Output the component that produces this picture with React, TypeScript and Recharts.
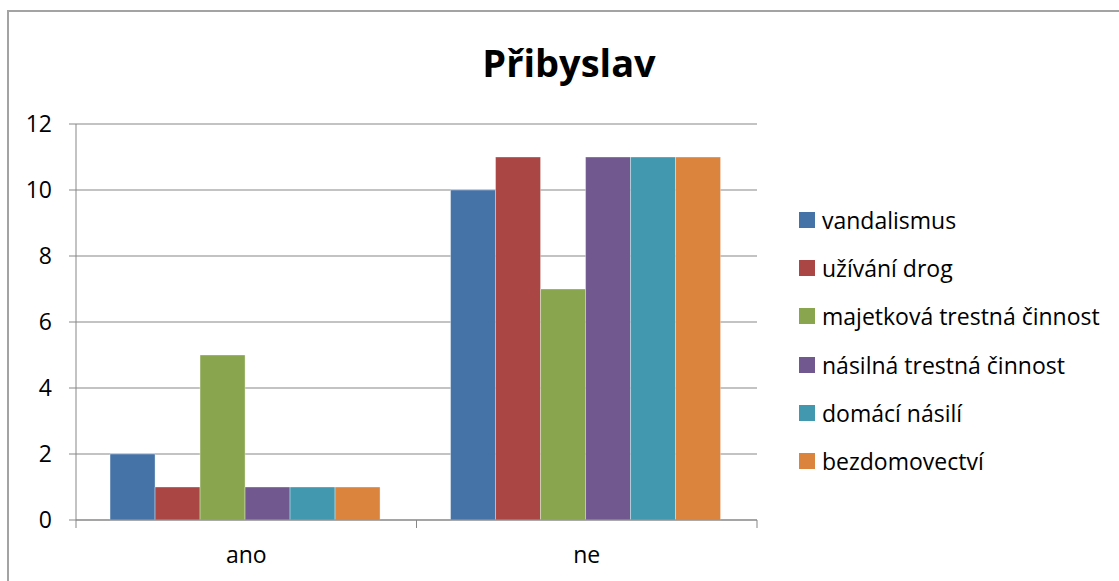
import { BarChart, Bar, XAxis, YAxis, CartesianGrid } from "recharts";

const categories = ["ano", "ne"];

const seriesNames = [
  "vandalismus",
  "užívání drog",
  "majetková trestná činnost",
  "násilná trestná činnost",
  "domácí násilí",
  "bezdomovectví",
];

const vandalismus = [2, 10];
const uzivaniDrog = [1, 11];
const majetkova = [5, 7];
const nasilna = [1, 11];
const domaciNasili = [1, 11];
const bezdomovectvi = [1, 11];

const yTicks = [0, 2, 4, 6, 8, 10, 12];

const seriesValues = [vandalismus, uzivaniDrog, majetkova, nasilna, domaciNasili, bezdomovectvi];

const COLORS = ["#4572A7", "#AA4643", "#89A54E", "#71588F", "#4198AF", "#DB843D"];

const W = 1119;
const H = 581;
const PLOT_LEFT = 76;
const PLOT_RIGHT = 757;
const PLOT_TOP = 124;
const PLOT_BOTTOM = 520;
const BAND = (PLOT_RIGHT - PLOT_LEFT) / categories.length;

const FONT = "'Open Sans', sans-serif";
const AXIS = "#878787";

const data = categories.map((name, i) => {
  const row: Record<string, string | number> = { name };
  seriesNames.forEach((s, j) => {
    row[s] = seriesValues[j][i];
  });
  return row;
});

const CategoryTick = ({ x, y, payload, index }: any) => (
  <g>
    {index === 0 && <line x1={x - BAND / 2} x2={x - BAND / 2} y1={y} y2={y + 8} stroke={AXIS} />}
    <line x1={x + BAND / 2} x2={x + BAND / 2} y1={y} y2={y + 8} stroke={AXIS} />
    <text x={x} y={y + 35} dy="0.35em" textAnchor="middle" fill="#000" fontSize={23} fontFamily={FONT}>
      {payload.value}
    </text>
  </g>
);

export default function App() {
  return (
    <div style={{ position: "absolute", left: 0, top: 0, width: W, height: H, overflow: "hidden", background: "#fff" }}>
      <div
        style={{
          position: "absolute",
          left: 7,
          top: 10,
          width: W + 50,
          height: H + 50,
          borderTop: "2px solid #a3a3a3",
          borderLeft: "2px solid #a3a3a3",
        }}
      />
      <div
        style={{
          position: "absolute",
          left: 0,
          width: 1138,
          top: 36,
          textAlign: "center",
          fontFamily: FONT,
          fontWeight: 700,
          fontSize: 38,
          lineHeight: "52px",
          color: "#000",
        }}
      >
        Přibyslav
      </div>
      <div style={{ position: "absolute", left: 0, top: 0 }}>
        <BarChart
          width={W}
          height={H}
          data={data}
          margin={{ top: PLOT_TOP, right: W - PLOT_RIGHT, bottom: 0, left: 0 }}
          barCategoryGap="10%"
          barGap={0}
        >
          <CartesianGrid vertical={false} stroke={AXIS} strokeDasharray="" />
          <XAxis
            dataKey="name"
            height={H - PLOT_BOTTOM}
            tickLine={false}
            tickSize={0}
            tickMargin={0}
            axisLine={{ stroke: AXIS }}
            tick={<CategoryTick />}
            interval={0}
          />
          <YAxis
            type="number"
            domain={[0, 12]}
            ticks={yTicks}
            width={PLOT_LEFT}
            tickSize={7}
            tickMargin={17}
            tickLine={{ stroke: AXIS }}
            axisLine={{ stroke: AXIS }}
            tick={{ fill: "#000", fontSize: 23, fontFamily: FONT }}
            interval={0}
          />
          {seriesNames.map((s, j) => (
            <Bar key={s} dataKey={s} fill={COLORS[j]} stroke="rgba(255,255,255,0.35)" strokeWidth={1} isAnimationActive={false} />
          ))}
        </BarChart>
      </div>
      <div style={{ position: "absolute", left: 799, top: 196, fontFamily: FONT, fontSize: 23, color: "#000" }}>
        {seriesNames.map((s, j) => (
          <div key={s} style={{ display: "flex", alignItems: "center", height: 48.2 }}>
            <div style={{ width: 16, height: 16, background: COLORS[j], marginRight: 7 }} />
            <span style={{ whiteSpace: "nowrap" }}>{s}</span>
          </div>
        ))}
      </div>
    </div>
  );
}
